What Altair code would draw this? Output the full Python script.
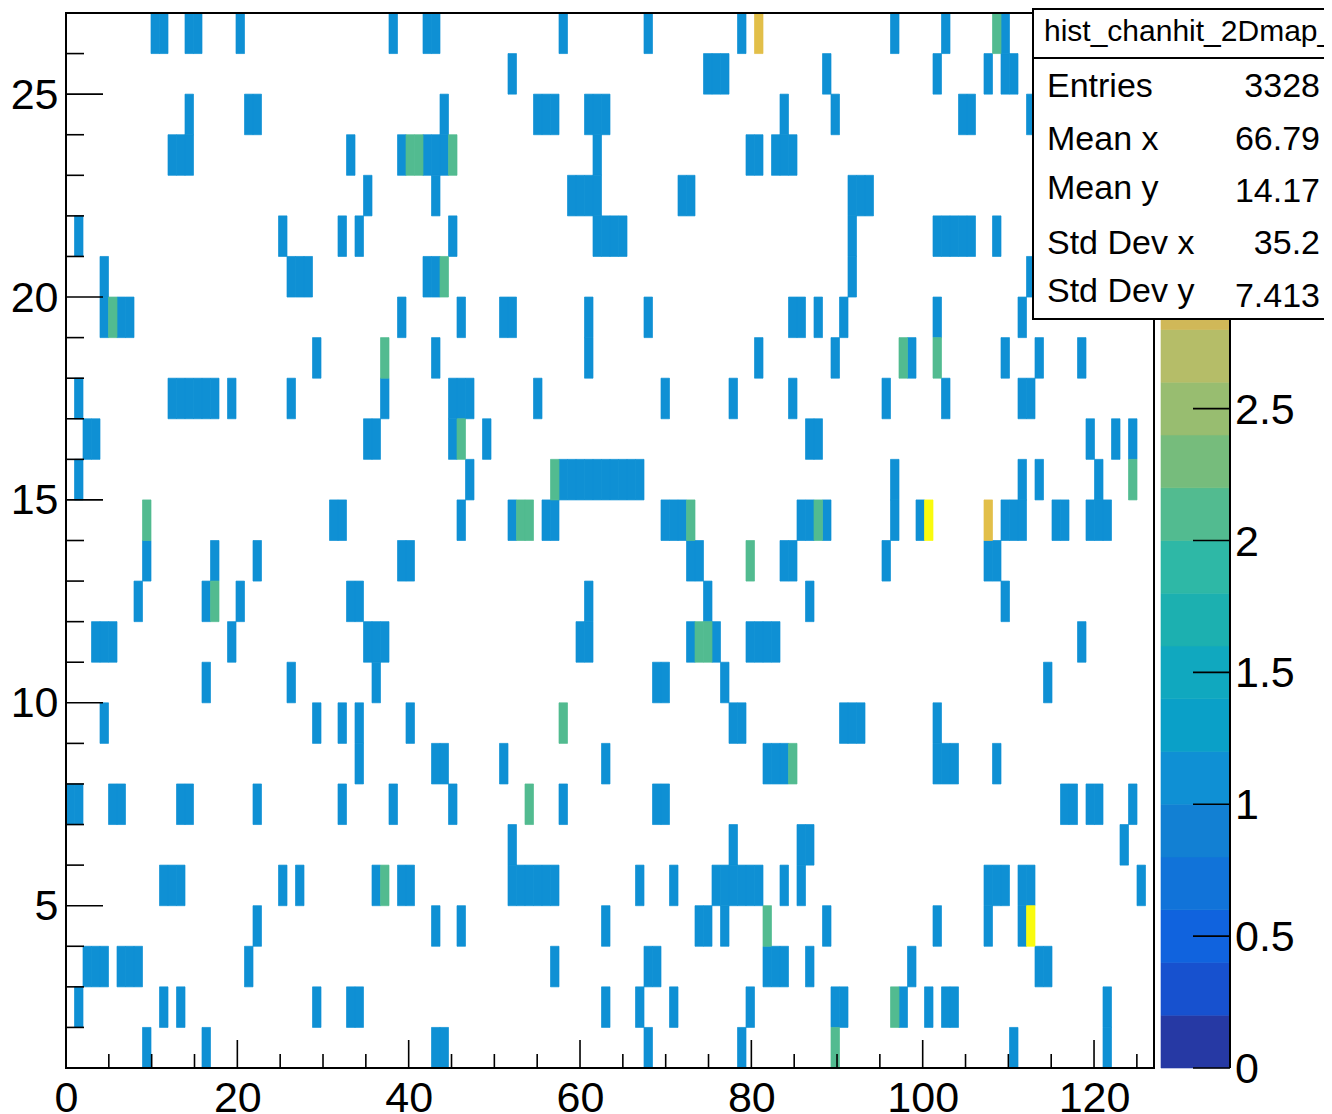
import altair as alt
import pandas as pd

# occupied bins (count 1) per row of the map, row label = lower y edge
row_26 = [10, 11, 14, 15, 20, 38, 42, 43, 58, 68, 79, 97, 103, 110]
row_25 = [52, 75, 76, 77, 89, 102, 108, 110, 111]
row_24 = [14, 21, 22, 44, 55, 56, 57, 61, 62, 63, 84, 90, 105, 106, 113]
row_23 = [12, 13, 14, 33, 39, 42, 43, 44, 62, 80, 81, 83, 84, 85]
row_22 = [35, 43, 59, 60, 61, 62, 72, 73, 92, 93, 94]
row_21 = [1, 25, 32, 34, 45, 62, 63, 64, 65, 92, 102, 103, 104, 105, 106, 109]
row_20 = [4, 26, 27, 28, 42, 43, 92, 113]
row_19 = [4, 6, 7, 39, 46, 51, 52, 61, 68, 85, 86, 88, 91, 102, 112]
row_18 = [29, 43, 61, 81, 90, 99, 110, 114, 119]
row_17 = [1, 12, 13, 14, 15, 16, 17, 19, 26, 37, 45, 46, 47, 55, 70, 78, 85, 96, 103, 112, 113]
row_16 = [2, 3, 35, 36, 45, 49, 87, 88, 120, 123, 125]
row_15 = [1, 47, 58, 59, 60, 61, 62, 63, 64, 65, 66, 67, 97, 112, 114, 121]
row_14 = [31, 32, 46, 52, 56, 57, 70, 71, 72, 86, 87, 89, 97, 100, 110, 111, 112, 116, 117, 120, 121, 122]
row_13 = [9, 17, 22, 39, 40, 73, 74, 84, 85, 96, 108, 109]
row_12 = [8, 16, 20, 33, 34, 61, 75, 87, 110]
row_11 = [3, 4, 5, 19, 35, 36, 37, 60, 61, 73, 76, 80, 81, 82, 83, 119]
row_10 = [16, 26, 36, 69, 70, 77, 115]
row_09 = [4, 29, 32, 34, 40, 78, 79, 91, 92, 93, 102]
row_08 = [34, 43, 44, 51, 63, 82, 83, 84, 102, 103, 104, 109]
row_07 = [0, 1, 5, 6, 13, 14, 22, 32, 38, 45, 58, 69, 70, 117, 118, 120, 121, 125]
row_06 = [52, 78, 86, 87, 124]
row_05 = [11, 12, 13, 25, 27, 36, 39, 40, 52, 53, 54, 55, 56, 57, 67, 71, 76, 77, 78, 79, 80, 81, 84, 86,
          108, 109, 110, 112, 113, 126]
row_04 = [22, 43, 46, 63, 74, 75, 77, 89, 102, 108, 112]
row_03 = [2, 3, 4, 6, 7, 8, 21, 57, 68, 69, 82, 83, 84, 87, 99, 114, 115]
row_02 = [1, 11, 13, 29, 33, 34, 63, 67, 71, 80, 90, 91, 98, 101, 103, 104, 122]
row_01 = [9, 16, 43, 44, 68, 79, 111, 122]

# (row, bin) of cells with a higher count
count_two = [(26, 109), (23, 40), (23, 41), (23, 45), (20, 44), (19, 5), (18, 37), (18, 98), (18, 102),
             (16, 46), (15, 57), (15, 125), (14, 9), (14, 53), (14, 54), (14, 73), (14, 88), (13, 80),
             (12, 17), (11, 74), (11, 75), (9, 58), (8, 85), (7, 54), (5, 37), (4, 82), (2, 97), (1, 90)]
count_three = [(26, 81), (14, 108)]
count_four = [(14, 101), (4, 113)]

x_major = [0, 20, 40, 60, 80, 100, 120]
x_minor = [5, 10, 15, 25, 30, 35, 45, 50, 55, 65, 70, 75, 85, 90, 95, 105, 110, 115, 125]
y_major = [5, 10, 15, 20, 25]
y_minor = [2, 3, 4, 6, 7, 8, 9, 11, 12, 13, 14, 16, 17, 18, 19, 21, 22, 23, 24, 26]

level_edges = [0.0, 0.2, 0.4, 0.6, 0.8, 1.0, 1.2, 1.4, 1.6, 1.8, 2.0, 2.2, 2.4, 2.6, 2.8, 3.0, 3.2, 3.4, 3.6, 3.8, 4.0]
level_colours = ["#2639a4", "#1751cf", "#1063de", "#1173d9", "#1280d3", "#0f90d4", "#0aa0c8", "#10a8bf",
                 "#1cb0b0", "#2eb8a6", "#52bb90", "#76bc7c", "#98bd70", "#b5bd68", "#d0b858", "#e2bf49",
                 "#efc63a", "#f6d22b", "#fae11d", "#f9fb0e"]
bar_ticks = [0, 0.5, 1, 1.5, 2, 2.5]
bar_tick_labels = ["0", "0.5", "1", "1.5", "2", "2.5"]

stats_names = ["Entries", "Mean x", "Mean y", "Std Dev x", "Std Dev y"]
stats_values = ["3328", "66.79", "14.17", "35.2", "7.413"]
stats_title = "hist_chanhit_2Dmap_"

FONT = "Liberation Sans"
PLOT_W, PLOT_H = 1088, 1055
BIN_W = 127 / 128

rows = {26: row_26, 25: row_25, 24: row_24, 23: row_23, 22: row_22, 21: row_21, 20: row_20, 19: row_19,
        18: row_18, 17: row_17, 16: row_16, 15: row_15, 14: row_14, 13: row_13, 12: row_12, 11: row_11,
        10: row_10, 9: row_09, 8: row_08, 7: row_07, 6: row_06, 5: row_05, 4: row_04, 3: row_03, 2: row_02,
        1: row_01}
records = []
for r, bins in rows.items():
    records += [(r, b, 1) for b in bins]
records += [(r, b, 2) for r, b in count_two]
records += [(r, b, 3) for r, b in count_three]
records += [(r, b, 4) for r, b in count_four]
cells = pd.DataFrame(records, columns=["row", "bin", "count"])
cells["x0"] = cells["bin"] * BIN_W
cells["x1"] = (cells["bin"] + 1) * BIN_W
cells["y0"] = cells["row"]
cells["y1"] = cells["row"] + 1

xs = alt.Scale(domain=[0, 127], range=[0, PLOT_W], nice=False, zero=False)
ys = alt.Scale(domain=[1, 27], range=[PLOT_H, 0], nice=False, zero=False)
bar_y = alt.Scale(domain=[0, 4], range=[PLOT_H, 0], nice=False, zero=False)
level_scale = alt.Scale(type="threshold", domain=level_edges[1:-1], range=level_colours)

heat = alt.Chart(cells).mark_rect(strokeWidth=0.7).encode(
    x=alt.X("x0:Q", scale=xs, title=None,
            axis=alt.Axis(values=x_major, format="d", labelFont=FONT, labelFontSize=43, labelColor="black",
                          domain=False, ticks=False, grid=False, labelPadding=9, labelFlush=False,
                          labelOverlap=False)),
    x2="x1:Q",
    y=alt.Y("y0:Q", scale=ys, title=None,
            axis=alt.Axis(values=y_major, format="d", labelFont=FONT, labelFontSize=43, labelColor="black",
                          domain=False, ticks=False, grid=False, labelPadding=8, labelFlush=False,
                          labelOverlap=False, labelOffset=1)),
    y2="y1:Q",
    color=alt.Color("count:Q", legend=None, scale=level_scale),
    stroke=alt.Stroke("count:Q", legend=None, scale=level_scale),
)

one = pd.DataFrame({"a": [0]})
frame = alt.Chart(one).mark_rect(fillOpacity=0, stroke="black", strokeWidth=2).encode(
    x=alt.value(0), x2=alt.value(PLOT_W), y=alt.value(0), y2=alt.value(PLOT_H))


def x_ticks(values, length):
    return alt.Chart(pd.DataFrame({"v": values})).mark_rule(color="black", strokeWidth=1.6).encode(
        x=alt.X("v:Q", scale=xs, axis=None), y=alt.value(PLOT_H), y2=alt.value(PLOT_H - length))


def y_ticks(values, length):
    return alt.Chart(pd.DataFrame({"v": values})).mark_rule(color="black", strokeWidth=1.6).encode(
        y=alt.Y("v:Q", scale=ys, axis=None), x=alt.value(0), x2=alt.value(length))


bands = pd.DataFrame({"lo": level_edges[:-1], "hi": level_edges[1:], "colour": level_colours})
bar = alt.Chart(bands).mark_rect(strokeWidth=0.6).encode(
    x=alt.value(1095), x2=alt.value(1163),
    y=alt.Y("lo:Q", scale=bar_y, axis=None), y2="hi:Q",
    color=alt.Color("colour:N", scale=None),
    stroke=alt.Stroke("colour:N", scale=None),
)
bar_axis = alt.Chart(one).mark_rule(color="black", strokeWidth=2).encode(
    x=alt.value(1164), y=alt.value(0), y2=alt.value(PLOT_H))
bar_tick_df = pd.DataFrame({"v": bar_ticks, "t": bar_tick_labels})
bar_tick_marks = alt.Chart(bar_tick_df).mark_rule(color="black", strokeWidth=1.6).encode(
    y=alt.Y("v:Q", scale=bar_y, axis=None), x=alt.value(1127), x2=alt.value(1164))
bar_labels = alt.Chart(bar_tick_df).mark_text(font=FONT, fontSize=43, align="left", baseline="middle",
                                              color="black", dy=2).encode(
    y=alt.Y("v:Q", scale=bar_y, axis=None), x=alt.value(1169), text="t:N")

box = alt.Chart(one).mark_rect(fill="white", stroke="black", strokeWidth=2).encode(
    x=alt.value(967), x2=alt.value(1275), y=alt.value(-4), y2=alt.value(306))
box_sep = alt.Chart(one).mark_rule(color="black", strokeWidth=2).encode(
    x=alt.value(967), x2=alt.value(1275), y=alt.value(45))
box_title = alt.Chart(pd.DataFrame({"t": [stats_title]})).mark_text(
    font=FONT, fontSize=30, align="left", baseline="alphabetic", color="black").encode(
    x=alt.value(978), y=alt.value(28), text="t:N")

name_y = [84, 137, 186, 241, 289]
value_y = [84, 137, 189, 241, 294]
stat_layers = []
for name, value, ny, vy in zip(stats_names, stats_values, name_y, value_y):
    stat_layers.append(alt.Chart(pd.DataFrame({"t": [name]})).mark_text(
        font=FONT, fontSize=34, align="left", baseline="alphabetic", color="black").encode(
        x=alt.value(981), y=alt.value(ny), text="t:N"))
    stat_layers.append(alt.Chart(pd.DataFrame({"t": [value]})).mark_text(
        font=FONT, fontSize=34, align="right", baseline="alphabetic", color="black").encode(
        x=alt.value(1254), y=alt.value(vy), text="t:N"))

chart = alt.layer(
    heat, frame,
    x_ticks(x_major, 28), x_ticks(x_minor, 14), y_ticks(y_major, 37), y_ticks(y_minor, 18),
    bar, bar_axis, bar_tick_marks, bar_labels,
    box, box_sep, box_title, *stat_layers,
).resolve_scale(x="independent", y="independent", color="independent", stroke="independent").properties(
    width=1258, height=PLOT_H,
    padding={"left": 58, "top": 5, "right": 0, "bottom": 46},
    autosize=alt.AutoSizeParams(type="none"),
    background="white",
).configure_view(strokeWidth=0)

chart.save("out.html", embed_options={"renderer": "svg", "actions": False})
